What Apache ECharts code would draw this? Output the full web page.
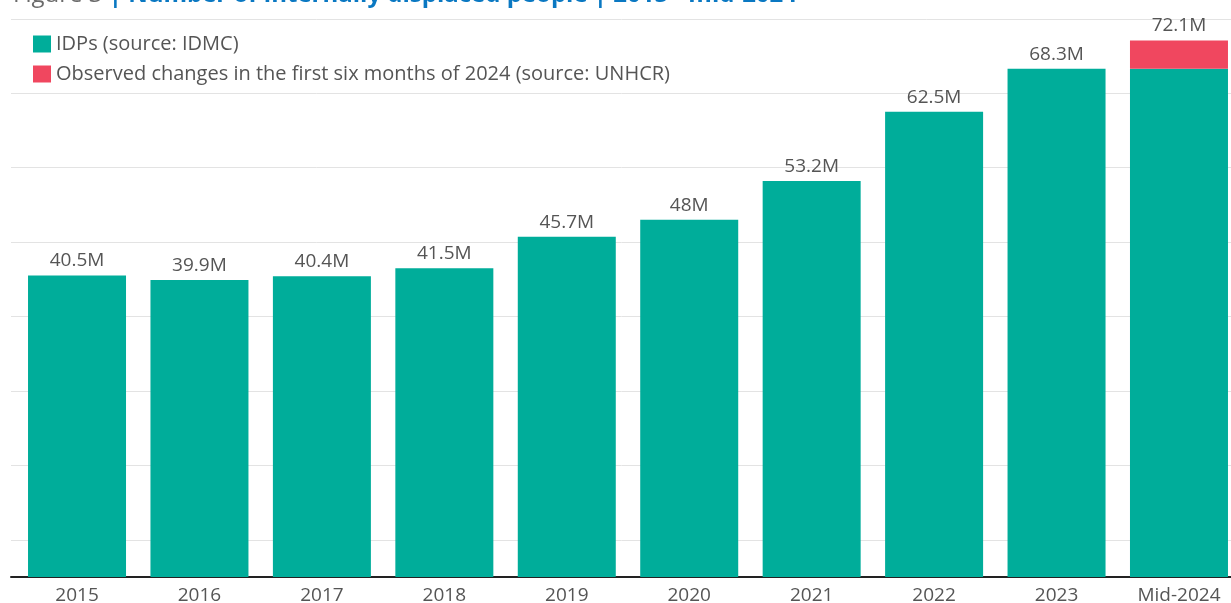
<!DOCTYPE html>
<html>
<head>
<meta charset="utf-8">
<title>Number of internally displaced people | 2015 - mid-2024</title>
<script src="https://cdn.jsdelivr.net/npm/echarts@6/dist/echarts.min.js"></script>
<style>
  html, body { margin: 0; padding: 0; background: #ffffff; }
  #chart { width: 1231px; height: 603px; }
</style>
</head>
<body>
<div id="chart"></div>
<script>
// Internally displaced people, millions
const categories = ['2015', '2016', '2017', '2018', '2019', '2020', '2021', '2022', '2023', 'Mid-2024'];
const idpValues = [40.5, 39.9, 40.4, 41.5, 45.7, 48, 53.2, 62.5, 68.3, 68.3];
const changeValues = [null, null, null, null, null, null, null, null, null, 3.8];
const seriesNames = ['IDPs (source: IDMC)', 'Observed changes in the first six months of 2024 (source: UNHCR)'];
// gridlines sit half-way between round tens
const gridTicks = { min: -5, max: 75, interval: 10 };
const valueMax = 75;

const FONT = '"Open Sans", "Noto Sans", sans-serif';
const TEAL = '#00ad9a';
const PINK = '#f0475f';
const TEXT = '#555555';

const chart = echarts.init(document.getElementById('chart'), null, { renderer: 'canvas' });

const lastIdx = categories.length - 1;

function fmt(v) {
  return (Math.round(v * 10) / 10) + 'M';
}

const TOP = 18.8;
const ZERO_Y = 577;          // pixel row of the zero baseline
const PX_PER_UNIT = (ZERO_Y - TOP) / valueMax;
const H = 603;

const option = {
  animation: false,
  backgroundColor: '#ffffff',
  textStyle: { fontFamily: FONT },
  graphic: [{
    type: 'text',
    x: 13,
    y: -5,
    style: {
      text: '{a|Figure 3 }{b|| Number of internally displaced people | 2015 - mid-2024}',
      verticalAlign: 'middle',
      align: 'left',
      rich: {
        a: { fontFamily: FONT, fontSize: 24, fill: '#6b6b6b' },
        b: { fontFamily: FONT, fontSize: 24, fontWeight: 'bold', fill: '#0a78c2' }
      }
    }
  }],
  legend: {
    orient: 'vertical',
    left: 28,
    top: 29,
    itemWidth: 18,
    itemHeight: 17,
    itemGap: 10,
    icon: 'rect',
    selectedMode: false,
    textStyle: { fontFamily: FONT, fontSize: 20, color: TEXT },
    data: seriesNames
  },
  grid: [
    // background grid: gridlines and baseline (extends below zero)
    {
      left: 11, right: -9.2, top: TOP,
      bottom: H - (ZERO_Y + (0 - gridTicks.min) * PX_PER_UNIT),
      containLabel: false, outerBoundsMode: 'none'
    },
    // bars, from zero up
    {
      left: 15.8, right: -9.2, top: TOP, bottom: H - ZERO_Y,
      containLabel: false, outerBoundsMode: 'none'
    }
  ],
  xAxis: [
    {
      type: 'category', gridIndex: 0, data: categories,
      axisLine: { onZero: true, lineStyle: { color: '#222222', width: 2 } },
      axisTick: { show: false },
      axisLabel: { show: false },
      splitLine: { show: false }
    },
    {
      type: 'category', gridIndex: 1, data: categories,
      axisLine: { show: false },
      axisTick: { show: false },
      axisLabel: { fontFamily: FONT, fontSize: 19, color: TEXT, margin: 9 },
      splitLine: { show: false }
    }
  ],
  yAxis: [
    {
      type: 'value', gridIndex: 0,
      min: gridTicks.min, max: gridTicks.max, interval: gridTicks.interval,
      axisLine: { show: false }, axisTick: { show: false }, axisLabel: { show: false },
      splitLine: { show: true, lineStyle: { color: '#e3e3e3', width: 1 } }
    },
    {
      type: 'value', gridIndex: 1,
      min: 0, max: valueMax,
      axisLine: { show: false }, axisTick: { show: false }, axisLabel: { show: false },
      splitLine: { show: false }
    }
  ],
  series: [
    {
      name: seriesNames[0],
      type: 'bar',
      xAxisIndex: 1, yAxisIndex: 1,
      stack: 'total',
      barWidth: 98,
      itemStyle: { color: TEAL },
      label: {
        show: true,
        position: 'top',
        distance: 5,
        fontFamily: FONT, fontSize: 19, color: TEXT,
        formatter: (p) => p.dataIndex === lastIdx && changeValues[lastIdx] != null ? '' : fmt(p.value)
      },
      data: idpValues,
      z: 3
    },
    {
      name: seriesNames[1],
      type: 'bar',
      xAxisIndex: 1, yAxisIndex: 1,
      stack: 'total',
      barWidth: 98,
      itemStyle: { color: PINK },
      label: {
        show: true,
        position: 'top',
        distance: 5,
        fontFamily: FONT, fontSize: 19, color: TEXT,
        formatter: (p) => fmt(idpValues[p.dataIndex] + p.value)
      },
      data: changeValues,
      z: 3
    }
  ]
};

chart.setOption(option);
</script>
</body>
</html>
